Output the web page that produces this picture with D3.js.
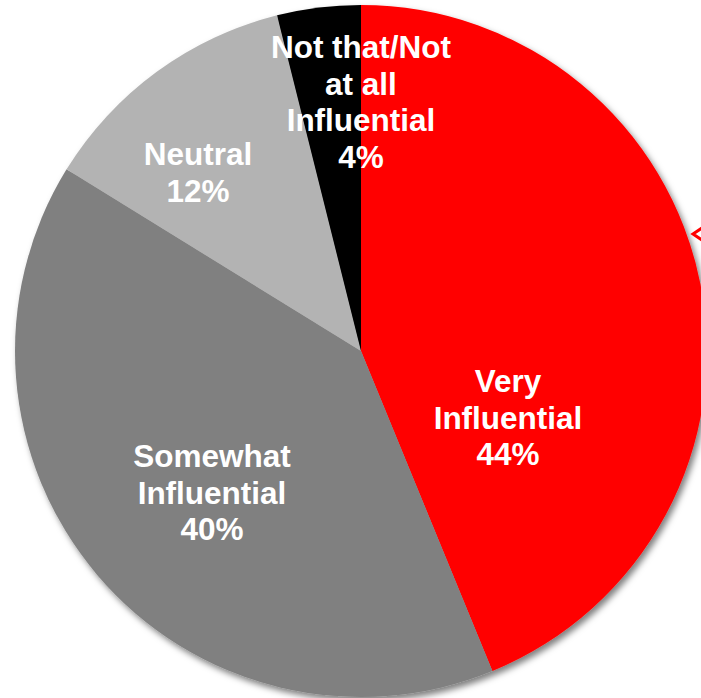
<!DOCTYPE html>
<html>
<head>
<meta charset="utf-8">
<script src="https://cdn.jsdelivr.net/npm/d3@7"></script>
<style>
html,body{margin:0;padding:0;background:#fff;overflow:hidden;}
svg{display:block;}
</style>
</head>
<body>
<svg id="chart" width="701" height="698"></svg>
<script>
const categories = ["Very Influential", "Somewhat Influential", "Neutral", "Not that/Not at all Influential"];
// slice sizes (labels show rounded percentages)
const values = [43.8, 40.0, 12.3, 3.9];
const labelLines = [
  ["Very", "Influential", "44%"],
  ["Somewhat", "Influential", "40%"],
  ["Neutral", "12%"],
  ["Not that/Not", "at all", "Influential", "4%"]
];
const colors = ["#FF0000", "#808080", "#B3B3B3", "#000000"];

const svg = d3.select("#chart");
const cx = 361, cy = 351, r = 346;

const defs = svg.append("defs");
const f = defs.append("filter").attr("id", "sh").attr("x", "-10%").attr("y", "-10%").attr("width", "130%").attr("height", "130%");
f.append("feDropShadow").attr("dx", 3).attr("dy", 4).attr("stdDeviation", 3).attr("flood-color", "#000").attr("flood-opacity", 0.5);

const data = categories.map((c, i) => ({cat: c, value: values[i], lines: labelLines[i], color: colors[i]}));
const pie = d3.pie().sort(null).value(d => d.value);
const arcs = pie(data);
const arc = d3.arc().innerRadius(0).outerRadius(r);

const g = svg.append("g").attr("transform", `translate(${cx},${cy})`);
g.append("g").attr("filter", "url(#sh)")
  .selectAll("path").data(arcs).join("path")
  .attr("d", arc)
  .attr("fill", d => d.data.color);

const labelPos = [
  {x: 508, y: 392},
  {x: 212, y: 467},
  {x: 198, y: 165},
  {x: 361, y: 58}
];
const lineH = 36.5;
data.forEach((d, i) => {
  const t = svg.append("text")
    .attr("x", labelPos[i].x)
    .attr("y", labelPos[i].y)
    .attr("text-anchor", "middle")
    .attr("fill", "#fff")
    .attr("font-family", "Liberation Sans, Arial, sans-serif")
    .attr("font-weight", "bold")
    .attr("font-size", 31.5);
  d.lines.forEach((ln, j) => {
    t.append("tspan").attr("x", labelPos[i].x).attr("y", labelPos[i].y + j * lineH).text(ln);
  });
});

// partial red chevron at the right edge
svg.append("path")
  .attr("d", "M702,228 L693,234 L702,240")
  .attr("fill", "none")
  .attr("stroke", "#FF0000")
  .attr("stroke-width", 3);
</script>
</body>
</html>
